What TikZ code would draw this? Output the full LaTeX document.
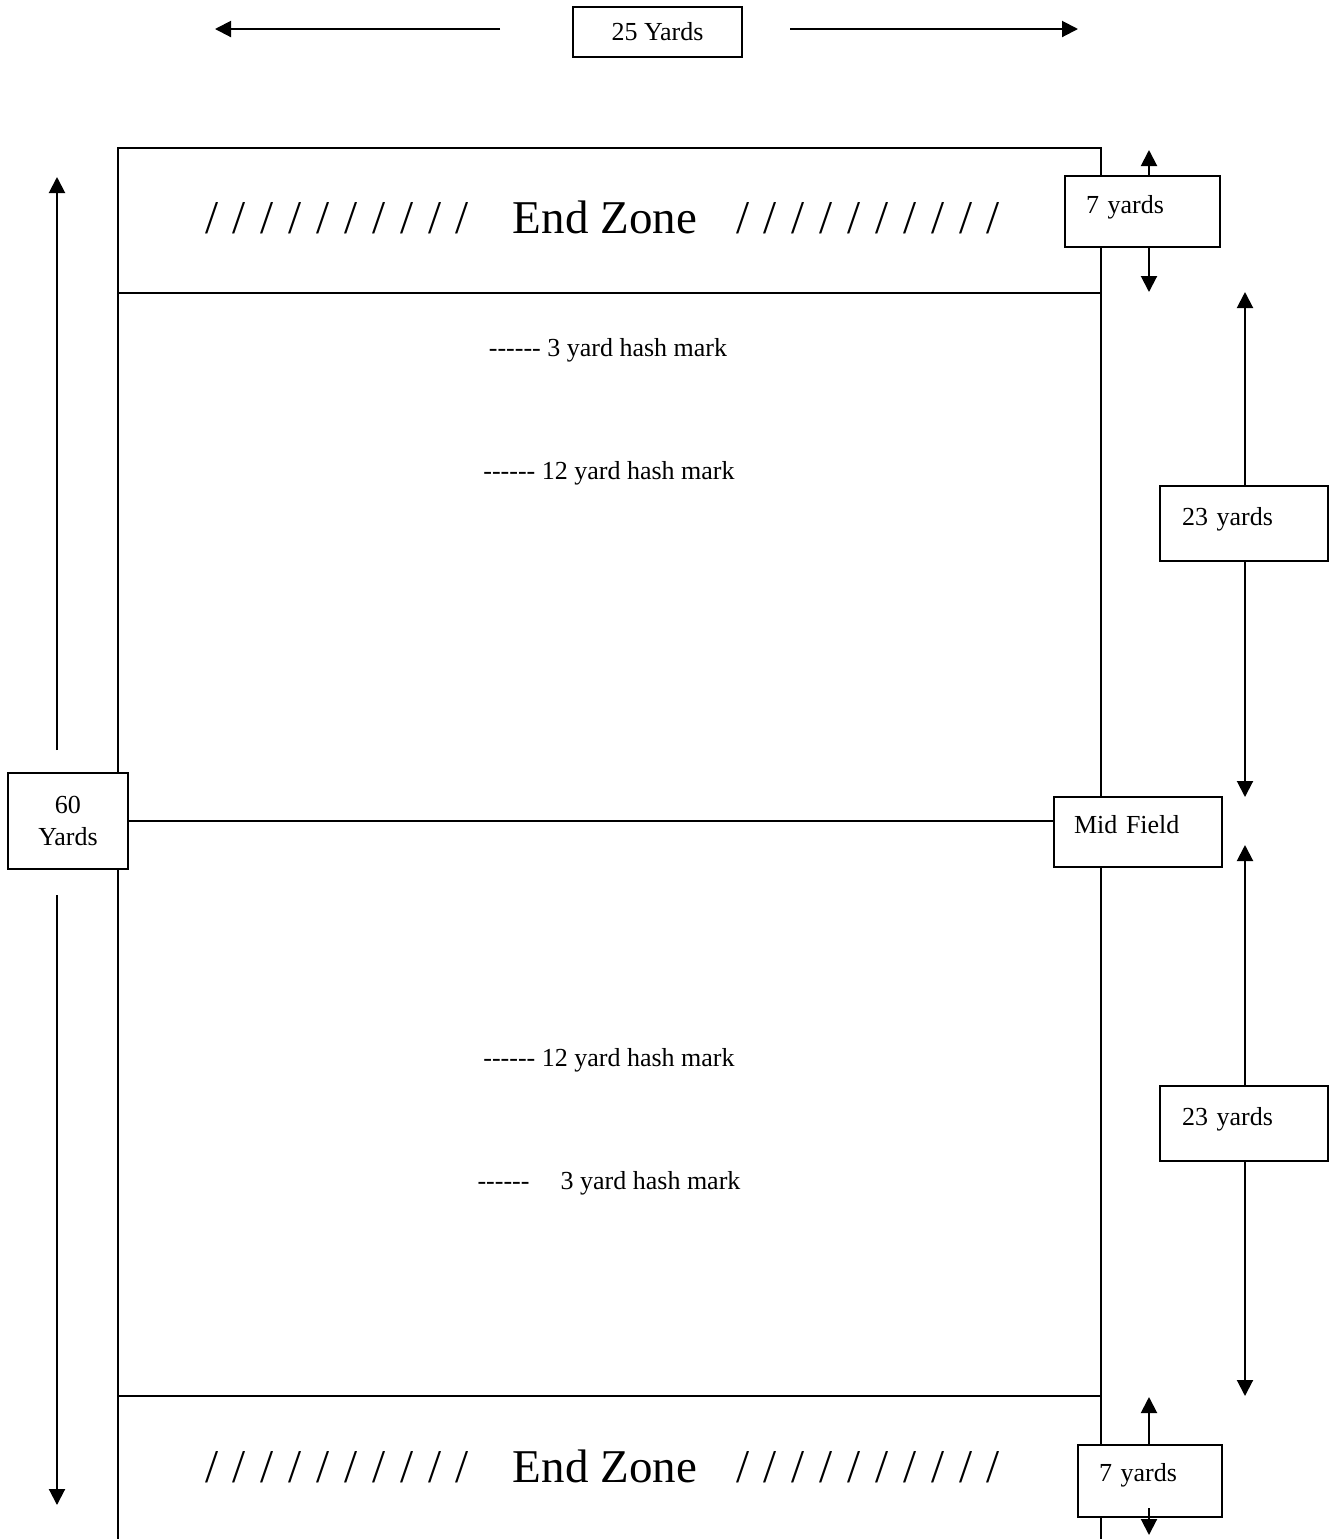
\documentclass[tikz,border=0pt]{standalone}
\usepackage{fontspec}
\setmainfont{Liberation Serif}
\usepackage{tikz}
\usetikzlibrary{arrows, arrows.meta, positioning}
\newcommand{\wideslashes}{\spaceskip 0.315em\relax}
\tikzset{sbox/.style={draw, fill=white, line width=1pt, font=\fontsize{13}{16}\selectfont},
  arr/.style={line width=1pt, -{Triangle[width=8pt,length=8pt]}},
  hash/.style={font=\fontsize{13}{16}\selectfont},
  ezone/.style={font=\fontsize{23.5}{28}\selectfont, anchor=base},
  slashes/.style={ezone, font={\fontsize{23.5}{28}\selectfont\wideslashes}}}
\newcommand{\hashdashes}{-\kern0pt-\kern0pt-\kern0pt-\kern0pt-\kern0pt-}

\begin{document}
\begin{tikzpicture}[x=0.5pt, y=-0.5pt, line width=1pt]
  \useasboundingbox (0,0) rectangle (1330,1539);
%% the field
  \draw (118,1539) -- (118,148) -- (1101,148) -- (1101,1539);
  \draw (118,293) -- (1101,293);
  \draw (118,1396) -- (1101,1396);
%% end zones
	\node[slashes] (ezlefta) at (337,233) {/ / / / / / / / / /};
	\node[ezone] (eznamea) at (605,233) {End Zone};
	\node[slashes] (ezrighta) at (868,233) {/ / / / / / / / / /};
	\node[slashes] (ezleftb) at (337,1482) {/ / / / / / / / / /};
	\node[ezone] (eznameb) at (605,1482) {End Zone};
	\node[slashes] (ezrightb) at (868,1482) {/ / / / / / / / / /};
%% hash marks
	\node[hash] (hash3a) at (608,350) {\hashdashes{} 3 yard hash mark};
	\node[hash] (hash12a) at (609,473) {\hashdashes{} 12 yard hash mark};
	\node[hash] (hash12b) at (609,1060) {\hashdashes{} 12 yard hash mark};
	\node[hash] (hash3b) at (609,1183) {\hashdashes\hspace{1.2em}3 yard hash mark};
%% width
	\node[sbox, minimum width=84.5pt, minimum height=25pt] (yards25) at (657.5,32) {25 Yards};
  \coordinate (wleft) at (215,29);
  \coordinate (wright) at (1078,29);
  \draw[arr] (500,29) coordinate (wl0) to (wleft);
  \draw[arr] (790,29) coordinate (wr0) to (wright);
%% length
	\node[sbox, minimum width=60pt, minimum height=48pt, align=center] (yards60) at (68,821) {60\\Yards};
	\node[sbox, anchor=north west, inner xsep=10pt, inner ysep=4pt, text width=64pt,
	  text height=14pt, text depth=13pt] (midfield) at (1053,796) {Mid Field};
  \draw (yards60.east) -- (yards60.east -| midfield.west);
  \coordinate (lup) at (57,177);
  \coordinate (ldown) at (57,1505);
  \draw[arr] (57,750) coordinate (lu0) to (lup);
  \draw[arr] (57,895) coordinate (ld0) to (ldown);
%% end zone depth
	\node[sbox, anchor=north west, inner xsep=10.5pt, inner ysep=4pt, text width=56.5pt,
	  text height=14.5pt, text depth=13pt] (top7) at (1064,175) {7 yards};
	\node[sbox, anchor=north west, inner xsep=10.5pt, inner ysep=4pt, text width=51pt,
	  text height=14pt, text depth=14pt] (bot7) at (1077,1444) {7 yards};
  \coordinate (t7up) at (1149,150);
  \coordinate (t7down) at (1149,292);
  \coordinate (b7up) at (1149,1397);
  \coordinate (b7down) at (1149,1535);
  \draw[arr] (top7.north -| t7up) to (t7up);
  \draw[arr] (top7.south -| t7down) to (t7down);
  \draw[arr] (bot7.north -| b7up) to (b7up);
  \draw[arr] ([yshift=5pt]bot7.south -| b7down) to (b7down);
%% half field
	\node[sbox, anchor=north west, inner xsep=11pt, inner ysep=4pt, text width=62pt,
	  text height=15.5pt, text depth=14pt] (yards23a) at (1159,485) {23 yards};
	\node[sbox, anchor=north west, inner xsep=11pt, inner ysep=4pt, text width=62pt,
	  text height=15.5pt, text depth=14pt] (yards23b) at (1159,1085) {23 yards};
  \coordinate (a23up) at (1245,292);
  \coordinate (a23down) at (1245,797);
  \coordinate (b23up) at (1245,845);
  \coordinate (b23down) at (1245,1396);
  \draw[arr] (yards23a.north -| a23up) to (a23up);
  \draw[arr] (yards23a.south -| a23down) to (a23down);
  \draw[arr] (yards23b.north -| b23up) to (b23up);
  \draw[arr] (yards23b.south -| b23down) to (b23down);
\end{tikzpicture}
\end{document}
